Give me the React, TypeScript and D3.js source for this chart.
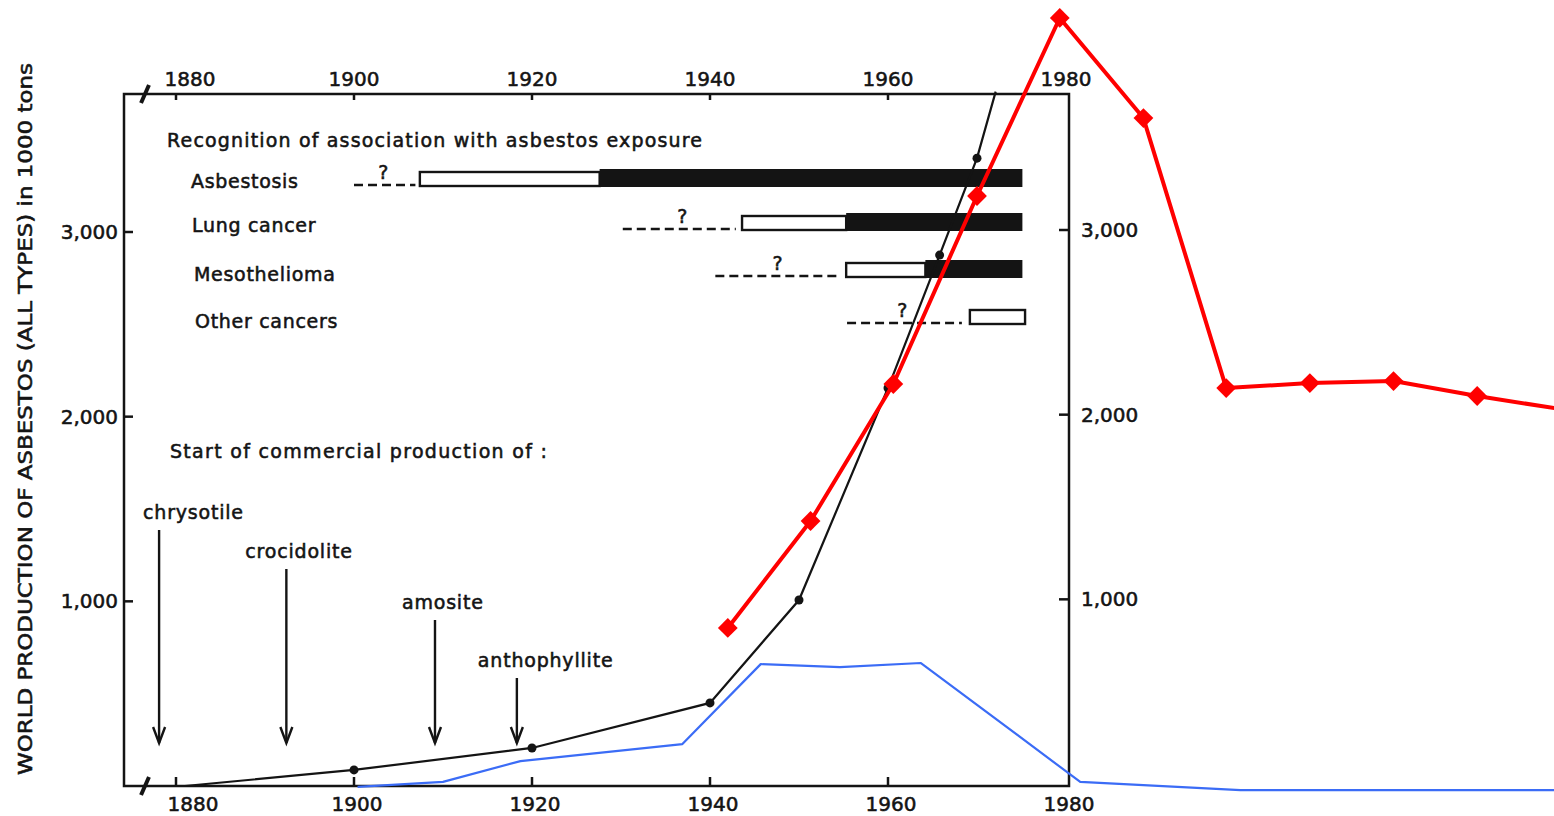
import React, { useEffect, useRef } from "react";
import * as d3 from "d3";

// axis ticks
const yearTicks = [1880, 1900, 1920, 1940, 1960, 1980];
const valueTicks = [1000, 2000, 3000];

// original black curve: world production, 1000 tons
const prodYears = [1881, 1900, 1920, 1940, 1950, 1960, 1965.8, 1970, 1972.1];
const prodValues = [0, 87, 206, 450, 1007, 2155, 2875, 3400, 3760];

// red overlay
const redYears = [1942, 1951.3, 1960.6, 1970, 1979.3, 1988.7, 1998, 2007.4, 2016.8, 2026.2, 2037];
const redValues = [856, 1435, 2177, 3195, 4159, 3617, 2155, 2182, 2193, 2112, 2030];

// blue overlay
const blueYears = [1900.4, 1910, 1918.7, 1936.9, 1945.7, 1954.6, 1963.7, 1981.6, 1999.6, 2040];
const blueValues = [-5, 22, 135, 227, 660, 644, 666, 22, -22, -22];

// recognition bars
const diseases = ["Asbestosis", "Lung cancer", "Mesothelioma", "Other cancers"];
const suspectFrom = [1900, 1930.2, 1940.6, 1955.4];
const suspectTo = [1906.9, 1942.9, 1954.6, 1968.3];
const questionYears = [1903.3, 1936.9, 1947.6, 1961.6];
const probableFrom = [1907.4, 1943.6, 1955.3, 1969.2];
const probableTo = [1927.6, 1955.3, 1964.2, 1975.4];
const establishedTo = [1975.1, 1975.1, 1975.1, null];

// start of commercial production
const minerals = ["chrysotile", "crocidolite", "amosite", "anthophyllite"];
const mineralYears = [1878.1, 1892.4, 1909.1, 1918.3];

export default function App() {
  const ref = useRef<SVGSVGElement>(null);

  useEffect(() => {
    const svg = d3.select(ref.current);
    svg.selectAll("*").remove();

    const ink = "#141414";
    const font = "'DejaVu Sans', sans-serif";

    const x = d3.scaleLinear().domain([1900, 1980]).range([354, 1066]);
    const y = d3.scaleLinear().domain([0, 3000]).range([786, 232]);

    const left = 124, right = 1069, top = 94, bottom = 786;

    // scanned type looks heavy: thicken glyphs a little
    const txt = (xx: number, yy: number, s: string | number, size: number) =>
      svg.append("text").attr("x", xx).attr("y", yy)
        .attr("font-family", font).attr("font-size", size)
        .attr("fill", ink).attr("stroke", ink).attr("stroke-width", 0.55)
        .text(s);

    // frame
    svg.append("rect")
      .attr("x", left).attr("y", top)
      .attr("width", right - left).attr("height", bottom - top)
      .attr("fill", "none").attr("stroke", ink).attr("stroke-width", 2.5);

    // break marks
    [top, bottom].forEach(yy => {
      svg.append("line")
        .attr("x1", 141).attr("y1", yy + 9).attr("x2", 149).attr("y2", yy - 9)
        .attr("stroke", ink).attr("stroke-width", 4);
    });

    // x ticks + labels
    yearTicks.forEach(t => {
      const off = t === 1880 ? 14 : 0;
      if (t !== 1980) {
        svg.append("line").attr("x1", x(t)).attr("x2", x(t))
          .attr("y1", top).attr("y2", top + 6)
          .attr("stroke", ink).attr("stroke-width", 2.5);
        svg.append("line").attr("x1", x(t)).attr("x2", x(t))
          .attr("y1", bottom).attr("y2", bottom - 9)
          .attr("stroke", ink).attr("stroke-width", 2.5);
      }
      txt(x(t) + off, 86, t, 20).attr("text-anchor", "middle");
      txt(x(t) + off + 3, 811, t, 20).attr("text-anchor", "middle");
    });

    // y ticks + labels (both sides)
    valueTicks.forEach(v => {
      svg.append("line").attr("x1", left).attr("x2", left + 9)
        .attr("y1", y(v)).attr("y2", y(v)).attr("stroke", ink).attr("stroke-width", 2.5);
      svg.append("line").attr("x1", right).attr("x2", right - 10)
        .attr("y1", y(v) - 2).attr("y2", y(v) - 2).attr("stroke", ink).attr("stroke-width", 2.5);
      txt(118, y(v) + 7, d3.format(",")(v), 20).attr("text-anchor", "end");
      txt(1081, y(v) + 5, d3.format(",")(v), 20);
    });

    // y axis title
    txt(0, 0, "WORLD PRODUCTION OF ASBESTOS (ALL TYPES) in 1000 tons", 19)
      .attr("transform", "translate(32, 419) rotate(-90)")
      .attr("text-anchor", "middle")
      .attr("textLength", 712).attr("lengthAdjust", "spacingAndGlyphs");

    // recognition block
    txt(167, 147, "Recognition of association with asbestos exposure", 19)
      .attr("textLength", 535).attr("lengthAdjust", "spacing");

    const rowBottom = [187, 231, 278, 325];
    const labelX = [191, 192, 194, 195];
    diseases.forEach((d, i) => {
      const yb = rowBottom[i];
      txt(labelX[i], yb + 1 + (i > 1 ? 2 : 0), d, 19).attr("letter-spacing", 0.7);
      svg.append("line")
        .attr("x1", x(suspectFrom[i])).attr("x2", x(suspectTo[i]))
        .attr("y1", yb - 2).attr("y2", yb - 2)
        .attr("stroke", ink).attr("stroke-width", 2.4).attr("stroke-dasharray", "9,5");
      txt(x(questionYears[i]), yb - 8, "?", 19).attr("text-anchor", "middle");
      svg.append("rect")
        .attr("x", x(probableFrom[i])).attr("y", yb - 15)
        .attr("width", x(probableTo[i]) - x(probableFrom[i])).attr("height", 14)
        .attr("fill", "#fff").attr("stroke", ink).attr("stroke-width", 2.4);
      const end = establishedTo[i];
      if (end !== null) {
        svg.append("rect")
          .attr("x", x(probableTo[i])).attr("y", yb - 18)
          .attr("width", x(end) - x(probableTo[i])).attr("height", 18)
          .attr("fill", ink);
      }
    });

    // commercial production block
    txt(170, 458, "Start of commercial production of :", 19)
      .attr("textLength", 377).attr("lengthAdjust", "spacing");

    const labelTop = [519, 558, 609, 667];
    const labelDx = [-16, -41, -33, -39];
    const tipY = 743;
    minerals.forEach((m, i) => {
      const ax = x(mineralYears[i]);
      txt(ax + labelDx[i], labelTop[i], m, 19).attr("letter-spacing", 0.8);
      svg.append("line").attr("x1", ax).attr("x2", ax)
        .attr("y1", labelTop[i] + 11).attr("y2", tipY)
        .attr("stroke", ink).attr("stroke-width", 2.4);
      svg.append("path")
        .attr("d", `M${ax - 6},${tipY - 16}L${ax},${tipY}L${ax + 6},${tipY - 16}`)
        .attr("fill", "none").attr("stroke", ink).attr("stroke-width", 2.4);
    });

    // black production curve
    const prod = prodYears.map((yr, i) => [yr, prodValues[i]] as [number, number]);
    const line = d3.line<[number, number]>().x(d => x(d[0])).y(d => y(d[1]));
    svg.append("path").attr("d", line(prod))
      .attr("fill", "none").attr("stroke", ink).attr("stroke-width", 2.2);
    svg.selectAll(".prod-dot")
      .data(prod.slice(1, 8))
      .enter().append("circle")
      .attr("class", "prod-dot")
      .attr("cx", d => x(d[0])).attr("cy", d => y(d[1]))
      .attr("r", 4.5).attr("fill", ink);

    // blue overlay
    const blue = blueYears.map((yr, i) => [yr, blueValues[i]] as [number, number]);
    svg.append("path").attr("d", line(blue))
      .attr("fill", "none").attr("stroke", "#3b6cf6").attr("stroke-width", 2.2)
      .attr("stroke-linejoin", "round");

    // red overlay
    const red = redYears.map((yr, i) => [yr, redValues[i]] as [number, number]);
    svg.append("path").attr("d", line(red))
      .attr("fill", "none").attr("stroke", "#ff0000").attr("stroke-width", 4)
      .attr("stroke-linejoin", "round");
    svg.selectAll(".red-dot")
      .data(red)
      .enter().append("rect")
      .attr("class", "red-dot")
      .attr("x", -7).attr("y", -7).attr("width", 14).attr("height", 14)
      .attr("transform", d => `translate(${x(d[0])},${y(d[1])}) rotate(45)`)
      .attr("fill", "#ff0000");
  }, []);

  return (
    <svg
      ref={ref}
      width={1554}
      height={816}
      style={{ position: "absolute", left: 0, top: 0, background: "#fff" }}
    />
  );
}
